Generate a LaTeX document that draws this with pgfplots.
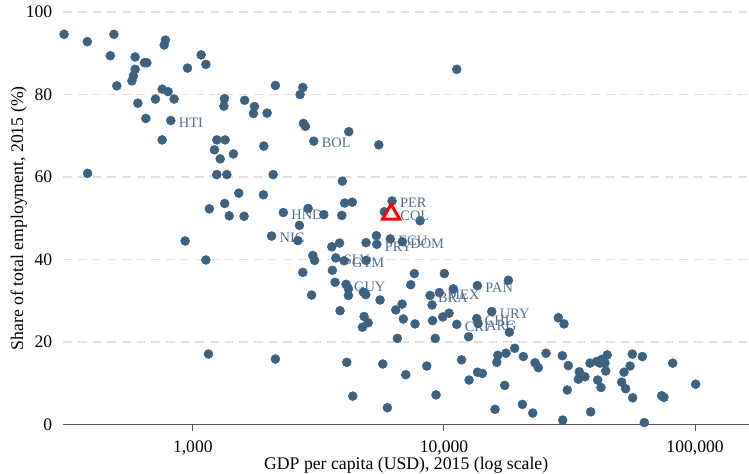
\documentclass[border=0pt]{standalone}
\usepackage{fontspec}
\setmainfont{Liberation Serif}
\usepackage{pgfplots}
\usepackage{pgfplotstable}
\pgfplotsset{compat=1.18}
\definecolor{dot}{RGB}{61,98,128}
\definecolor{lbl}{RGB}{82,112,138}
\definecolor{gridc}{RGB}{224,224,224}
\definecolor{axc}{RGB}{85,85,85}

\pgfplotstableread{
gdp share lab
307 94.6 {}
380 92.8 {}
485 94.6 {}
469 89.4 {}
589 89.1 {}
498 82.1 {}
589 86.1 {}
580 84.5 {}
572 83.3 {}
642 87.7 {}
656 87.7 {}
604 77.9 {}
650 74.2 {}
710 78.9 {}
755 81.3 {}
797 80.7 {}
842 78.9 {}
778 93.2 {}
769 92.0 {}
755 69.0 {}
817 73.7 HTI
952 86.4 {}
1079 89.6 {}
1127 87.3 {}
381 60.9 {}
1336 79.0 {}
1329 77.2 {}
1608 78.6 {}
1246 69.0 {}
1345 69.0 {}
1219 66.6 {}
1285 64.4 {}
1451 65.6 {}
1246 60.6 {}
1366 60.6 {}
1524 56.1 {}
1339 53.6 {}
1164 52.3 {}
1397 50.6 {}
1600 50.5 {}
932 44.5 {}
1127 39.9 {}
1154 17.1 {}
2132 82.2 {}
2741 81.7 {}
2674 80.0 {}
1759 77.1 {}
1743 75.4 {}
1976 75.5 {}
2756 73.0 {}
2807 72.3 {}
4178 71.0 {}
5501 67.8 {}
3031 68.7 BOL
11246 86.1 {}
1917 67.5 {}
2088 60.6 {}
3940 59.0 {}
1910 55.7 {}
2293 51.4 HND
2877 52.4 {}
3323 50.9 {}
3920 50.7 {}
4021 53.7 {}
4315 53.9 {}
6215 54.2 PER
5790 51.6 {}
8034 49.4 {}
2657 48.3 {}
2059 45.7 NIC
2620 44.6 {}
3576 43.1 {}
3840 44.0 {}
4897 44.1 {}
5382 45.8 {}
5402 43.7 PRY
6118 45.0 ECU
6830 44.3 DOM
3710 40.4 SLV
4002 39.7 GTM
3004 41.0 {}
3054 39.8 {}
4897 39.8 {}
2741 36.9 {}
3596 37.4 {}
3686 34.5 {}
4077 34.0 GUY
4164 32.9 {}
4164 31.3 {}
4777 32.1 {}
4883 31.5 {}
2971 31.4 {}
5567 30.2 {}
3857 27.6 {}
4808 26.2 {}
4988 24.7 {}
4734 23.6 {}
6524 20.9 {}
7624 36.6 {}
7375 33.9 {}
10037 36.6 {}
8806 31.3 BRA
9587 32.0 MEX
10900 32.9 {}
13583 33.7 PAN
18049 35.0 {}
8967 29.0 {}
6812 29.2 {}
6429 27.8 {}
6894 25.6 {}
7674 24.4 {}
9008 25.2 {}
9890 26.1 {}
10478 27.0 {}
11246 24.3 CRI
9235 20.9 {}
12532 21.3 {}
15500 27.4 URY
13510 25.7 CHL
13672 24.5 ARG
18216 22.4 {}
28540 25.9 {}
30070 24.4 {}
19130 18.5 {}
17670 17.3 {}
16390 16.8 {}
16230 15.1 {}
20710 16.5 {}
25500 17.3 {}
29600 16.7 {}
31270 14.3 {}
23060 15.0 {}
23760 13.8 {}
11750 15.7 {}
8541 14.2 {}
7046 12.1 {}
12590 10.8 {}
13610 12.7 {}
14220 12.4 {}
17460 9.5 {}
9302 7.2 {}
15970 3.7 {}
20520 4.9 {}
22570 2.8 {}
29710 1.1 {}
38410 3.1 {}
30980 8.4 {}
34600 12.8 {}
34830 11.6 {}
34280 11.0 {}
36450 11.6 {}
38160 14.9 {}
40580 15.3 {}
41820 14.9 {}
42480 15.8 {}
43780 14.9 {}
44720 16.9 {}
44070 13.0 {}
40950 10.8 {}
42210 9.0 {}
56230 17.1 {}
61640 16.5 {}
55070 14.2 {}
52120 12.7 {}
51030 10.3 {}
52920 8.7 {}
56440 6.5 {}
73620 7.0 {}
75190 6.6 {}
81450 14.9 {}
100550 9.8 {}
62780 0.5 {}
2132 15.9 {}
4102 15.1 {}
5707 14.7 {}
4335 6.9 {}
5953 4.1 {}
}\data

\pgfplotstableread{
gdp share lab
6159 51.0 COL
}\hilite

\begin{document}
\begin{tikzpicture}
\begin{axis}[
  scale only axis, width=514.3pt, height=309.5pt,
  xmode=log, xmin=305, xmax=164000, ymin=0, ymax=100,
  axis lines*=left, clip=false,
  x axis line style={draw=axc, line width=1.2pt, -},
  y axis line style={draw=none},
  xtick={1000,10000,100000}, xticklabels={1{,}000,10{,}000,100{,}000},
  xminorticks=false,
  ytick={0,20,40,60,80,100},
  ymajorgrids,
  major grid style={gridc, line width=1.1pt, dash pattern=on 6.5pt off 4.5pt},
  tick align=outside, major tick length=5pt,
  xtick style={axc, line width=0.8pt},
  ytick style={draw=none},
  /pgf/number format/assume math mode=true,
  tick label style={font=\fontsize{13.2}{15}\selectfont},
  yticklabel style={inner sep=0pt, xshift=-3.2pt},
  xticklabel style={inner sep=0pt, yshift=-7pt},
  label style={font=\fontsize{13.3}{16}\selectfont},
  xlabel={GDP per capita (USD), 2015 (log scale)},
  ylabel={Share of total employment, 2015 (\%)},
  xlabel style={at={(axis description cs:0.5,0)}, anchor=base, yshift=-34pt},
  ylabel style={at={(axis description cs:-0.0587,0.5)}, anchor=base},
  lblstyle/.style={point meta=explicit symbolic, nodes near coords,
    every node near coord/.append style={anchor=base west, inner sep=0pt, xshift=5.85pt, yshift=-5.1pt, font=\fontsize{10.8}{12}\selectfont, text=lbl}},
]
\addplot[draw=none, mark=none, lblstyle]
  table[x=gdp, y=share, meta=lab]{\data};
\addplot[only marks, mark=*, color=dot, mark size=3.35pt, mark options={solid, fill=dot, draw=dot}]
  table[x=gdp, y=share]{\data};
\addplot[only marks, mark=triangle*, color=red, mark size=7.4pt, mark options={solid, draw=red, fill=white, line width=2.3pt}, lblstyle]
  table[x=gdp, y=share, meta=lab]{\hilite};
\end{axis}
\pgfresetboundingbox
\path[use as bounding box] ([shift={(-47.5pt,-37pt)}]current axis.south west) rectangle ([shift={(0pt,9pt)}]current axis.north east);
\end{tikzpicture}
\end{document}
